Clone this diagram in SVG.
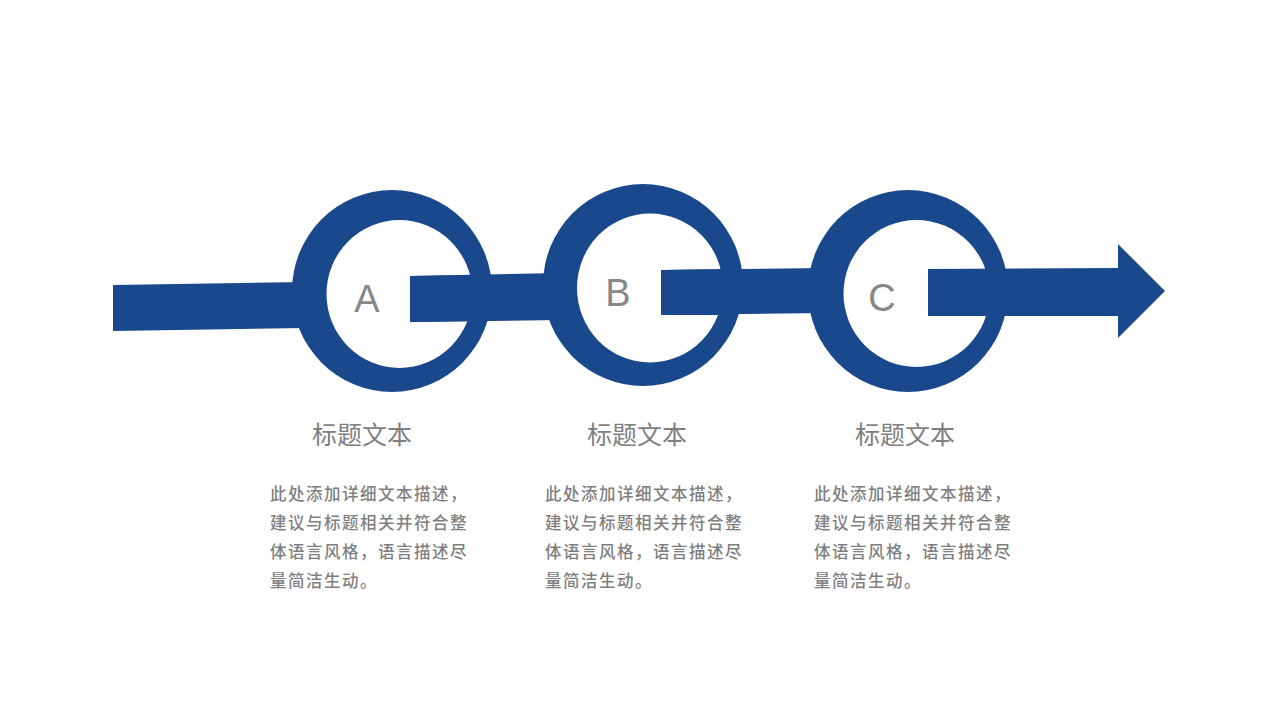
<svg xmlns="http://www.w3.org/2000/svg" width="1280" height="720" viewBox="0 0 1280 720">
<style>
.blue{fill:#19488D}
.letter{font-family:"Liberation Sans","DejaVu Sans",sans-serif;font-size:38px;fill:#888888;text-anchor:middle}
.title{font-family:"Noto Sans CJK SC","Noto Sans",sans-serif;font-size:25px;font-weight:400;fill:#7f7f7f;text-anchor:middle}
.body{font-family:"Noto Sans CJK SC","Noto Sans",sans-serif;font-size:16.5px;font-weight:500;fill:#7f7f7f;letter-spacing:1.5px}
</style>
<rect width="1280" height="720" fill="#ffffff"/>
<g id="connectors">
<polygon class="blue" points="113,285 305,282 305,328 113,331"/>
<polygon class="blue" points="410,276 560,273 560,320 410,322"/>
<polygon class="blue" points="661,270 825,268 825,313 661,315"/>
<polygon class="blue" points="928,269 1118,268 1118,244 1165,291 1118,338 1118,316 928,316"/>
</g>
<g id="node-a">
<path class="blue" fill-rule="evenodd" d="M492,291 A100,101 0 1 1 292,291 A100,101 0 1 1 492,291 Z M472.5,294 A73,74 0 1 0 326.5,294 A73,74 0 1 0 472.5,294 Z"/>
<polygon class="blue" points="410,276 480,275 480,321 410,322"/>
<text class="letter" x="367" y="312">A</text>
</g>
<g id="node-b">
<path class="blue" fill-rule="evenodd" d="M743,285 A100,101 0 1 1 543,285 A100,101 0 1 1 743,285 Z M723,288 A73,74.5 0 1 0 577,288 A73,74.5 0 1 0 723,288 Z"/>
<polygon class="blue" points="661,270 730,269 730,315 661,315"/>
<text class="letter" x="618" y="306">B</text>
</g>
<g id="node-c">
<path class="blue" fill-rule="evenodd" d="M1008,291 A100,101 0 1 1 808,291 A100,101 0 1 1 1008,291 Z M989.5,293.5 A73,73.5 0 1 0 843.5,293.5 A73,73.5 0 1 0 989.5,293.5 Z"/>
<polygon class="blue" points="928,269 1000,269 1000,316 928,316"/>
<text class="letter" x="882" y="311">C</text>
</g>
<g id="text-a">
<text class="title" x="362" y="444">标题文本</text>
<text class="body" x="270" y="500">此处添加详细文本描述，</text>
<text class="body" x="270" y="529">建议与标题相关并符合整</text>
<text class="body" x="270" y="558">体语言风格，语言描述尽</text>
<text class="body" x="270" y="587">量简洁生动。</text>
</g>
<g id="text-b">
<text class="title" x="637" y="444">标题文本</text>
<text class="body" x="545" y="500">此处添加详细文本描述，</text>
<text class="body" x="545" y="529">建议与标题相关并符合整</text>
<text class="body" x="545" y="558">体语言风格，语言描述尽</text>
<text class="body" x="545" y="587">量简洁生动。</text>
</g>
<g id="text-c">
<text class="title" x="905" y="444">标题文本</text>
<text class="body" x="814" y="500">此处添加详细文本描述，</text>
<text class="body" x="814" y="529">建议与标题相关并符合整</text>
<text class="body" x="814" y="558">体语言风格，语言描述尽</text>
<text class="body" x="814" y="587">量简洁生动。</text>
</g>
</svg>
